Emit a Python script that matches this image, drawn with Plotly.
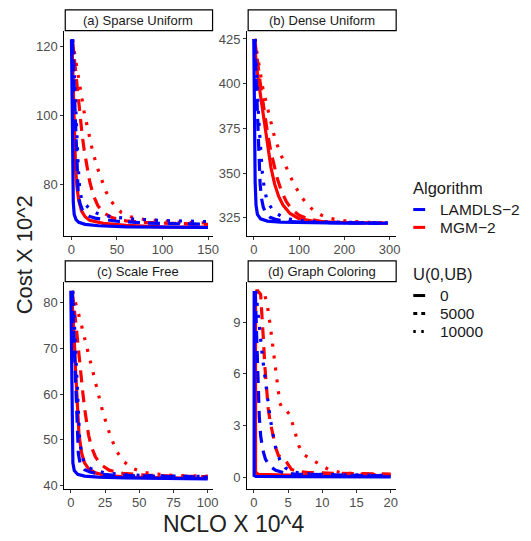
import plotly.graph_objects as go

# ---- data ----
panel_titles = ["(a) Sparse Uniform", "(b) Dense Uniform", "(c) Scale Free", "(d) Graph Coloring"]
algorithms = ["LAMDLS\u22122", "MGM\u22122"]
ub_levels = ["0", "5000", "10000"]

# (a) Sparse Uniform
sparse_lam_0_x = [0, 0.5, 1, 1.5, 2, 3, 5, 8, 15, 30, 60, 100, 150]
sparse_lam_0_y = [122, 110, 97, 85, 75, 71.5, 70, 69.2, 68.6, 68.2, 67.9, 67.8, 67.7]
sparse_lam_5000_x = [1, 2.5, 4, 5, 6, 7.5, 9.5, 12, 15, 20, 26, 35, 50, 80, 150]
sparse_lam_5000_y = [122, 112, 100, 91, 83, 77, 74.5, 72.8, 71.7, 70.9, 70.4, 70, 69.5, 69, 68.6]
sparse_lam_10000_x = [1.5, 3, 4.5, 6, 7.5, 9, 11, 15, 20, 28, 35, 50, 70, 100, 150]
sparse_lam_10000_y = [122, 112, 102, 93, 85, 79, 76, 74.5, 73, 71.8, 71.2, 70.6, 70.1, 69.7, 69.4]
sparse_mgm_0_x = [0.5, 1.5, 2.5, 3.5, 4.5, 6, 8, 11, 15, 20, 35, 60, 100, 150]
sparse_mgm_0_y = [122, 112, 102, 92, 85, 79.5, 75.5, 72.5, 70.8, 69.8, 68.9, 68.3, 67.9, 67.8]
sparse_mgm_5000_x = [1, 3, 5, 7, 9, 11.5, 14, 17, 20, 24, 29, 36, 45, 60, 80, 110, 150]
sparse_mgm_5000_y = [122, 117, 112, 106, 100, 95, 90, 85, 81, 77, 74, 71.8, 70.5, 69.6, 69.2, 68.9, 68.6]
sparse_mgm_10000_x = [1, 3, 5, 7.5, 10.5, 14, 18.5, 23, 28, 33, 38, 43, 48, 55, 65, 80, 100, 120, 150]
sparse_mgm_10000_y = [122, 119, 116, 111, 106.5, 101, 95, 90, 85.3, 81.5, 78, 75.5, 73.8, 72, 70.8, 70, 69.5, 69.2, 69]

# (b) Dense Uniform
dense_lam_0_x = [0, 0.5, 1, 2, 3, 5, 8, 15, 30, 60, 120, 200, 296]
dense_lam_0_y = [425, 410, 390, 365, 345, 332, 327, 324.5, 323.2, 322.6, 322.3, 322.1, 322]
dense_lam_5000_x = [2, 4, 6, 8, 10, 12, 14, 17, 21, 27, 36, 50, 75, 120, 200, 296]
dense_lam_5000_y = [425, 410, 395, 380, 366, 354, 344, 336, 331, 327.5, 325.3, 324, 323, 322.5, 322.2, 322]
dense_lam_10000_x = [3, 5, 7.5, 10, 13, 16, 19, 23, 28, 35, 45, 60, 80, 110, 150, 200, 296]
dense_lam_10000_y = [425, 412, 398, 385, 372, 360, 350, 342, 336, 332, 328.5, 326, 324.4, 323.4, 322.8, 322.5, 322.2]
dense_mgm_0_x = [1, 3, 6, 10, 15, 20, 25, 31, 38, 46, 55, 65, 80, 100, 130, 180, 240, 296]
dense_mgm_0_y = [425, 418, 410, 402, 393, 384, 375, 364, 353, 344, 337, 332, 327.5, 324.6, 323.2, 322.5, 322.2, 322]
dense_mgm_5000_x = [2, 5, 9, 14, 19, 24, 30, 37, 44, 52, 61, 72, 85, 100, 120, 150, 200, 296]
dense_mgm_5000_y = [425, 418, 410, 401, 392, 383, 373, 363, 355, 347, 340, 334, 329.5, 326.5, 324.4, 323, 322.4, 322]
dense_mgm_10000_x = [2, 6, 10, 15, 21, 28, 36, 46, 57, 68, 80, 93, 106, 120, 135, 150, 170, 200, 240, 296]
dense_mgm_10000_y = [425, 419, 412, 404, 396, 389, 380, 370, 362, 355, 348.5, 342, 336.5, 332, 328.5, 326.5, 324.7, 323.4, 322.6, 322.2]

# (c) Scale Free
sf_lam_0_x = [0, 0.3, 0.6, 1, 1.5, 2.5, 5, 10, 20, 40, 70, 100]
sf_lam_0_y = [82.5, 72, 60, 50, 45, 43.3, 42.5, 42.1, 41.9, 41.7, 41.6, 41.5]
sf_lam_5000_x = [1, 2, 3, 4, 5, 5.5, 7, 10, 14, 20, 30, 50, 75, 100]
sf_lam_5000_y = [82.5, 75, 67, 59, 52, 47, 44.5, 43.5, 43, 42.6, 42.3, 42.1, 42, 41.9]
sf_lam_10000_x = [1.5, 2.5, 3.5, 4.5, 5.5, 6.5, 8, 10, 13, 18, 25, 40, 60, 80, 100]
sf_lam_10000_y = [82.5, 76, 69, 62, 55, 50, 46.5, 45, 44, 43.3, 42.8, 42.4, 42.2, 42.1, 42]
sf_mgm_0_x = [0.5, 1.5, 2.5, 3.5, 4.5, 6, 8, 10, 13, 18, 25, 40, 70, 100]
sf_mgm_0_y = [82.5, 78, 72, 65, 58, 51, 47, 45, 43.7, 42.8, 42.3, 41.9, 41.7, 41.6]
sf_mgm_5000_x = [1, 2.5, 4, 5.5, 7, 8.5, 10, 11.5, 13, 15, 18, 22, 28, 38, 55, 75, 100]
sf_mgm_5000_y = [82.5, 79, 74.5, 70, 65, 61, 57, 54, 51, 48.5, 46.3, 44.6, 43.4, 42.7, 42.3, 42.1, 42]
sf_mgm_10000_x = [1, 3, 5, 7, 9, 11.5, 14, 17, 20, 23, 26.5, 30, 34, 39, 45, 52, 60, 72, 85, 100]
sf_mgm_10000_y = [82.5, 80.5, 78.5, 76, 73.5, 70.5, 67.5, 64, 60, 56.5, 53, 50, 47.3, 45.2, 43.8, 43, 42.6, 42.3, 42.2, 42.1]

# (d) Graph Coloring
gc_lam_0_x = [0.05, 0.05, 0.3, 1, 5, 10, 20]
gc_lam_0_y = [10.8, 0.1, 0.05, 0.04, 0.03, 0.02, 0.02]
gc_lam_5000_x = [0.2, 0.35, 0.5, 0.65, 0.8, 1.0, 1.3, 1.7, 2.3, 3.2, 4.5, 6, 10, 15, 20]
gc_lam_5000_y = [10.8, 9, 7, 5, 3.5, 2.4, 1.6, 1.05, 0.65, 0.4, 0.25, 0.18, 0.13, 0.1, 0.08]
gc_lam_10000_x = [0.3, 0.6, 0.9, 1.2, 1.5, 1.8, 2.1, 2.4, 2.8, 3.2, 3.8, 4.6, 5.5, 7, 10, 15, 20]
gc_lam_10000_y = [10.8, 9.5, 8.2, 7.2, 6.2, 5.2, 4.3, 3.4, 2.5, 1.7, 1.0, 0.55, 0.32, 0.22, 0.16, 0.12, 0.1]
gc_mgm_0_x = [0.25, 0.25, 0.6, 2, 5, 10, 20]
gc_mgm_0_y = [10.8, 0.3, 0.17, 0.14, 0.12, 0.1, 0.09]
gc_mgm_5000_x = [0.2, 0.6, 1.0, 1.2, 1.4, 1.6, 1.85, 2.1, 2.4, 2.8, 3.2, 3.6, 4.0, 4.5, 5.0, 5.5, 6.5, 8, 12, 16, 20]
gc_mgm_5000_y = [10.8, 10.8, 10.6, 9.5, 8, 6.5, 5.2, 4.0, 3.2, 2.4, 1.7, 1.25, 1.15, 1.05, 0.75, 0.45, 0.32, 0.27, 0.22, 0.2, 0.18]
gc_mgm_10000_x = [0.3, 1.0, 1.6, 2.0, 2.4, 2.8, 3.1, 3.4, 3.8, 4.3, 4.8, 5.3, 5.7, 6.1, 6.6, 7.3, 8.2, 9.2, 10.2, 11.2, 13, 16, 20]
gc_mgm_10000_y = [10.8, 10.8, 10.6, 9.9, 8.8, 7.5, 6.4, 5.3, 4.3, 3.9, 3.85, 3.6, 3.0, 2.4, 1.8, 1.3, 1.1, 0.85, 0.6, 0.4, 0.25, 0.17, 0.12]

# tick values per panel
sparse_xticks = [0, 50, 100, 150]
sparse_yticks = [80, 100, 120]
dense_xticks = [0, 100, 200, 300]
dense_yticks = [325, 350, 375, 400, 425]
sf_xticks = [0, 25, 50, 75, 100]
sf_yticks = [40, 50, 60, 70, 80]
gc_xticks = [0, 5, 10, 15, 20]
gc_yticks = [0, 3, 6, 9]

# ---- figure ----
W, H = 531, 541
BLUE = "#0000FF"
RED = "#FF0000"
DASHES = {"0": "solid", "5000": "12px,8px", "10000": "3px,9px"}
COLORS = {algorithms[0]: BLUE, algorithms[1]: RED}
FONT = "Liberation Sans, Arial, sans-serif"


def fx(p):
    return p / W


def fy(p):
    return 1 - p / H


panels = [
    dict(title=panel_titles[0], ax="", xd=(65, 215), yd=(31, 238), xr=[-7.9, 155], yr=[65.3, 124.5],
         xt=sparse_xticks, yt=sparse_yticks,
         curves={("MGM", "0"): (sparse_mgm_0_x, sparse_mgm_0_y),
                 ("MGM", "5000"): (sparse_mgm_5000_x, sparse_mgm_5000_y),
                 ("MGM", "10000"): (sparse_mgm_10000_x, sparse_mgm_10000_y),
                 ("LAM", "10000"): (sparse_lam_10000_x, sparse_lam_10000_y),
                 ("LAM", "5000"): (sparse_lam_5000_x, sparse_lam_5000_y),
                 ("LAM", "0"): (sparse_lam_0_x, sparse_lam_0_y)}),
    dict(title=panel_titles[1], ax="2", xd=(250, 400.7), yd=(31, 238), xr=[-14.6, 314.6], yr=[315, 429.6],
         xt=dense_xticks, yt=dense_yticks,
         curves={("MGM", "0"): (dense_mgm_0_x, dense_mgm_0_y),
                 ("MGM", "5000"): (dense_mgm_5000_x, dense_mgm_5000_y),
                 ("MGM", "10000"): (dense_mgm_10000_x, dense_mgm_10000_y),
                 ("LAM", "10000"): (dense_lam_10000_x, dense_lam_10000_y),
                 ("LAM", "5000"): (dense_lam_5000_x, dense_lam_5000_y),
                 ("LAM", "0"): (dense_lam_0_x, dense_lam_0_y)}),
    dict(title=panel_titles[2], ax="3", xd=(65, 215), yd=(284.3, 493.3), xr=[-4.8, 103.6], yr=[39.35, 84.5],
         xt=sf_xticks, yt=sf_yticks,
         curves={("MGM", "0"): (sf_mgm_0_x, sf_mgm_0_y),
                 ("MGM", "5000"): (sf_mgm_5000_x, sf_mgm_5000_y),
                 ("MGM", "10000"): (sf_mgm_10000_x, sf_mgm_10000_y),
                 ("LAM", "10000"): (sf_lam_10000_x, sf_lam_10000_y),
                 ("LAM", "5000"): (sf_lam_5000_x, sf_lam_5000_y),
                 ("LAM", "0"): (sf_lam_0_x, sf_lam_0_y)}),
    dict(title=panel_titles[3], ax="4", xd=(250, 400.7), yd=(284.3, 493.3), xr=[-0.97, 20.8], yr=[-0.67, 11.34],
         xt=gc_xticks, yt=gc_yticks,
         curves={("MGM", "0"): (gc_mgm_0_x, gc_mgm_0_y),
                 ("MGM", "5000"): (gc_mgm_5000_x, gc_mgm_5000_y),
                 ("MGM", "10000"): (gc_mgm_10000_x, gc_mgm_10000_y),
                 ("LAM", "10000"): (gc_lam_10000_x, gc_lam_10000_y),
                 ("LAM", "5000"): (gc_lam_5000_x, gc_lam_5000_y),
                 ("LAM", "0"): (gc_lam_0_x, gc_lam_0_y)}),
]

fig = go.Figure()
shapes = []
annotations = []
tick_font = dict(family=FONT, size=13, color="#4D4D4D")

for p in panels:
    ax = p["ax"]
    for (alg, ub), (xs, ys) in p["curves"].items():
        fig.add_trace(go.Scatter(
            x=xs, y=ys, mode="lines", showlegend=False, hoverinfo="skip",
            line=dict(color=BLUE if alg == "LAM" else RED, width=3.2, dash=DASHES[ub]),
            xaxis="x" + ax, yaxis="y" + ax,
        ))
    axis_common = dict(showline=True, linecolor="black", linewidth=1, ticks="outside", ticklen=3,
                       tickcolor="#333333", tickfont=tick_font, showgrid=False, zeroline=False,
                       fixedrange=True)
    fig.update_layout(**{
        "xaxis" + ax: dict(domain=[fx(p["xd"][0]), fx(p["xd"][1])], range=p["xr"], tickvals=p["xt"],
                           anchor="y" + ax, ticklabelstandoff=-1, **axis_common),
        "yaxis" + ax: dict(domain=[fy(p["yd"][1]), fy(p["yd"][0])], range=p["yr"], tickvals=p["yt"],
                           anchor="x" + ax, **axis_common),
    })
    # facet strip
    top = p["yd"][0] - 21
    shapes.append(dict(type="rect", xref="paper", yref="paper",
                       x0=fx(p["xd"][0] + 1), x1=fx(p["xd"][1]), y0=fy(p["yd"][0]), y1=fy(top),
                       line=dict(color="black", width=1.2), fillcolor="white"))
    annotations.append(dict(text=p["title"], xref="paper", yref="paper",
                            x=fx((p["xd"][0] + p["xd"][1]) / 2), y=fy((p["yd"][0] + top) / 2),
                            showarrow=False, xanchor="center", yanchor="middle",
                            font=dict(family=FONT, size=13, color="#1A1A1A")))

# axis titles
annotations.append(dict(text="NCLO X 10^4", xref="paper", yref="paper", x=fx(236), y=fy(529),
                        showarrow=False, xanchor="center", yanchor="middle",
                        font=dict(family=FONT, size=23, color="#222222")))
annotations.append(dict(text="Cost X 10^2", xref="paper", yref="paper", x=fx(25), y=fy(257),
                        showarrow=False, xanchor="center", yanchor="middle", textangle=-90,
                        font=dict(family=FONT, size=22, color="#222222")))

# legend drawn by hand (ggplot style)
title_leg_font = dict(family=FONT, size=16.5, color="#1A1A1A")
leg_font = dict(family=FONT, size=15.5, color="#1A1A1A")
annotations.append(dict(text="Algorithm", xref="paper", yref="paper", x=fx(416), y=fy(190),
                        showarrow=False, xanchor="left", yanchor="middle", font=title_leg_font))
for name, yy in zip(algorithms, [211.5, 229.5]):
    shapes.append(dict(type="line", xref="paper", yref="paper", x0=fx(418), x1=fx(430), y0=fy(yy), y1=fy(yy),
                       line=dict(color=COLORS[name], width=3)))
    annotations.append(dict(text=name, xref="paper", yref="paper", x=fx(443), y=fy(yy),
                            showarrow=False, xanchor="left", yanchor="middle", font=leg_font))
annotations.append(dict(text="U(0,UB)", xref="paper", yref="paper", x=fx(416), y=fy(277),
                        showarrow=False, xanchor="left", yanchor="middle", font=title_leg_font))
key_dash = {"0": "solid", "5000": "4px,4px", "10000": "2.5px,5.5px"}
for ub, yy in zip(ub_levels, [298.3, 316.5, 334.7]):
    shapes.append(dict(type="line", xref="paper", yref="paper", x0=fx(418), x1=fx(430), y0=fy(yy), y1=fy(yy),
                       line=dict(color="black", width=3, dash=key_dash[ub])))
    annotations.append(dict(text=ub, xref="paper", yref="paper", x=fx(443), y=fy(yy),
                            showarrow=False, xanchor="left", yanchor="middle", font=leg_font))

fig.update_layout(
    width=W, height=H,
    margin=dict(l=0, r=0, t=0, b=0),
    paper_bgcolor="white", plot_bgcolor="white",
    showlegend=False,
    shapes=shapes, annotations=annotations,
)

# the page's default 8px body margin would shift and clip the figure
fig.write_html("out.html", config={"displayModeBar": False},
               post_script="document.body.style.margin='0';document.body.style.overflow='hidden';")
